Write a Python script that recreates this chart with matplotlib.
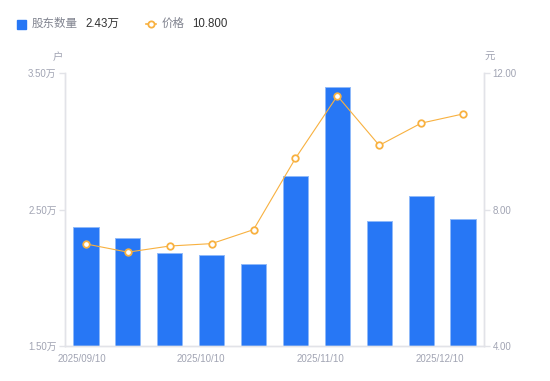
import matplotlib.pyplot as plt

plt.rcParams['font.family'] = ['Liberation Sans', 'Noto Sans CJK SC', 'DejaVu Sans']

# data
dates = ['2025/09/10', '2025/10/10', '2025/11/10', '2025/12/10']
holders = [2.37, 2.29, 2.18, 2.17, 2.10, 2.745, 3.40, 2.416, 2.597, 2.43]   # 万户
price = [6.99, 6.75, 6.93, 7.00, 7.41, 9.50, 11.33, 9.88, 10.53, 10.80]    # 元
left_ticks = [1.5, 2.5, 3.5]
right_ticks = [4.0, 8.0, 12.0]

blue = '#2777F5'
orange = '#F8B140'
gray_txt = '#A1A4B3'
axis_col = '#E2E3E8'

W, H = 550, 381
fig = plt.figure(figsize=(W / 100, H / 100), dpi=100)
ax = fig.add_axes([65 / W, 1 - 346 / H, (484 - 65) / W, (346 - 73) / H])
ax2 = ax.twinx()

x = list(range(len(holders)))
ax.bar(x, holders, width=0.6, color=blue, edgecolor='#8FB9F9', linewidth=0.7,
       zorder=2)
ax.set_ylim(left_ticks[0], left_ticks[-1])
ax.set_xlim(-0.5, len(holders) - 0.5)
ax.set_yticks(left_ticks)
ax.set_yticklabels(['%.2f万' % v for v in left_ticks])

ax2.plot(x, price, color=orange, lw=0.8, marker='o', ms=4.7, mfc='white',
         mec=orange, mew=1.3, zorder=3)
ax2.set_ylim(right_ticks[0], right_ticks[-1])
ax2.set_yticks(right_ticks)
ax2.set_yticklabels(['%.2f' % v for v in right_ticks])

# date labels sit evenly spaced, not under bars
ax.set_xticks([-0.09, 2.75, 5.6, 8.45])
ax.set_xticklabels(dates)

for a in (ax, ax2):
    a.spines['top'].set_visible(False)
    for s in ('left', 'right', 'bottom'):
        a.spines[s].set_color(axis_col)
        a.spines[s].set_linewidth(1)
    a.tick_params(axis='y', colors=axis_col, labelcolor=gray_txt, labelsize=7,
                  length=4, width=1, pad=2)
ax.tick_params(axis='x', length=0, labelcolor=gray_txt, labelsize=7, pad=6)
ax2.patch.set_visible(False)

# unit labels
fig.text(58 / W, 1 - 57 / H, '户', fontsize=7.5, color=gray_txt, ha='center', va='center')
fig.text(490 / W, 1 - 57 / H, '元', fontsize=7.5, color=gray_txt, ha='center', va='center')

# legend row
ly = 1 - 24 / H
fig.patches.append(plt.Rectangle((17 / W, 1 - 28.5 / H), 8.5 / W, 8.5 / H,
                                 transform=fig.transFigure, color=blue))
fig.text(32 / W, ly, '股东数量', fontsize=8.3, color='#80838F', va='center')
fig.text(85 / W, ly, '2.43万', fontsize=8.3, color='#333333', va='center')
fig.lines.append(plt.Line2D([146 / W, 156 / W], [ly, ly], transform=fig.transFigure,
                            color=orange, lw=1.2))
fig.lines.append(plt.Line2D([151 / W], [ly], transform=fig.transFigure, color=orange,
                            marker='o', ms=4.5, mfc='white', mew=1.3))
fig.text(162 / W, ly, '价格', fontsize=8.3, color='#80838F', va='center')
fig.text(192 / W, ly, '10.800', fontsize=8.3, color='#333333', va='center')

fig.savefig('out.png', dpi=100)
